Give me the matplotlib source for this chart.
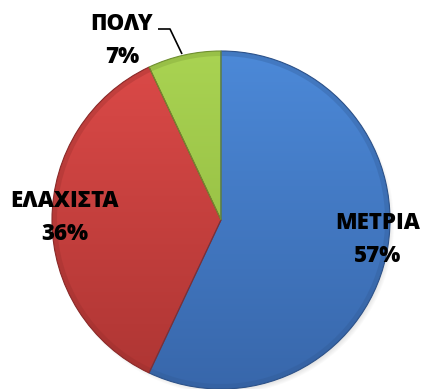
import numpy as np
import matplotlib.pyplot as plt
from matplotlib.patches import Wedge, Circle

# Survey answers
labels = ['ΜΕΤΡΙΑ', 'ΕΛΑΧΙΣΤΑ', 'ΠΟΛΥ']
shares = [57, 36, 7]
top_colors = ['#4c89d8', '#dc4a48', '#a9d352']
bottom_colors = ['#3867ab', '#ad3533', '#8bb33c']

W, H = 422, 389
fig = plt.figure(figsize=(W / 100, H / 100), dpi=100)
ax = fig.add_axes([0, 0, 1, 1])
ax.set_xlim(0, W)
ax.set_ylim(0, H)
ax.set_aspect('equal')
ax.axis('off')

cx, cy, r = 221, 169, 169


def hex_rgb(c):
    c = c.lstrip('#')
    return np.array([int(c[i:i + 2], 16) / 255 for i in (0, 2, 4)])


# soft shadow under the pie
for k in range(8):
    ax.add_patch(Circle((cx + 3, cy - 4), r + 1 - k, color='black',
                        alpha=0.02, lw=0, zorder=1))

# slices run clockwise from 12 o'clock
angle = 90.0
yy = np.linspace(cy - r, cy + r, 200)[:, None] * np.ones((1, 2))
for share, c_top, c_bot in zip(shares, top_colors, bottom_colors):
    sweep = share / sum(shares) * 360
    theta1, theta2 = angle - sweep, angle
    angle -= sweep
    wedge = Wedge((cx, cy), r, theta1, theta2, lw=0, fc='none', zorder=2)
    ax.add_patch(wedge)
    t = (yy - (cy - r)) / (2 * r)
    grad = hex_rgb(c_bot) * (1 - t[..., None]) + hex_rgb(c_top) * t[..., None]
    im = ax.imshow(grad, extent=(cx - r, cx + r, cy - r, cy + r),
                   origin='lower', aspect='auto', zorder=2,
                   interpolation='bilinear')
    im.set_clip_path(wedge)
    # darker rim for the bevelled edge
    ax.add_patch(Wedge((cx, cy), r, theta1, theta2, width=5,
                       fc=hex_rgb(c_bot) * 0.85, alpha=0.3, lw=0, zorder=3))
    ax.add_patch(Wedge((cx, cy), r, theta1, theta2, lw=0.8,
                       ec=hex_rgb(c_bot) * 0.8, fc='none', zorder=4))

ax.set_xlim(0, W)
ax.set_ylim(0, H)

font = dict(family='Open Sans', fontweight='heavy', fontsize=16,
            color='black', ha='center', va='baseline', zorder=6)
label_pos = [(378, 229), (65, 207), (122, 30)]
for (x, y), lab, share in zip(label_pos, labels, shares):
    ax.text(x, H - y, lab, **font)
    ax.text(x, H - y - 33, f'{share}%', **font)

# leader line for the small slice
ax.plot([158, 170, 182], [H - 29, H - 29, H - 54], color='black',
        lw=1.2, zorder=5, solid_capstyle='butt')

fig.savefig('out.png', dpi=100)
